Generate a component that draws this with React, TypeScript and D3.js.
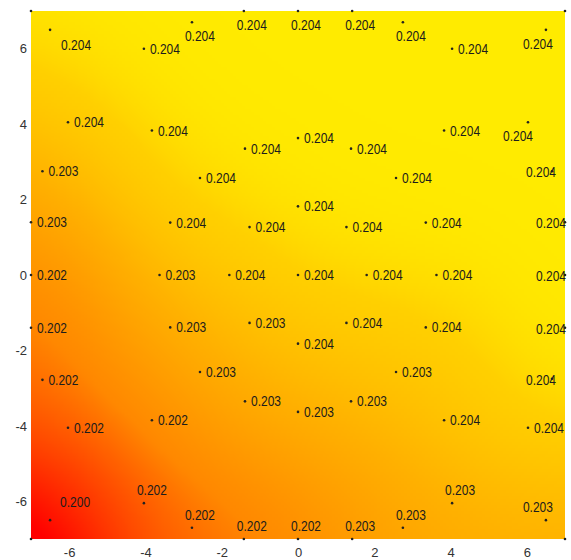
import React, { useEffect, useMemo, useRef } from 'react';
import * as d3 from 'd3';

// mesh nodes: centre, inner ring, middle ring, diagonals, outer nodes, frame nodes
const nodeX = [
  0,
  1.8, 1.27, 0, -1.27, -1.8, -1.27, 0, 1.27,
  3.63, 3.35, 2.57, 1.39, 0, -1.39, -2.57, -3.35, -3.63, -3.35, -2.57, -1.39, 0, 1.39, 2.57, 3.35,
  3.83, -3.83, -3.83, 3.83,
  6.03, 4.04, -4.04, -6.03, -6.03, -4.04, 4.04, 6.03,
  6.66, 2.75, -2.78, -6.7, -6.7, -2.78, 2.75, 6.66,
  6.5, -6.5, -6.5, 6.5,
  7, 7, 7, -7, -7, -7,
  0, 1.42, -1.42, 0, 1.42, -1.42,
];
const nodeY = [
  0,
  0, 1.27, 1.82, 1.27, 0, -1.27, -1.82, -1.27,
  0, 1.39, 2.57, 3.35, 3.63, 3.35, 2.57, 1.39, 0, -1.39, -2.57, -3.35, -3.63, -3.35, -2.57, -1.39,
  3.83, 3.83, -3.85, -3.85,
  4.05, 6.0, 6.0, 4.05, -4.05, -6.05, -6.05, -4.05,
  2.75, 6.7, 6.7, 2.75, -2.78, -6.7, -6.7, -2.75,
  6.5, 6.5, -6.5, -6.5,
  0, 1.4, -1.4, 0, 1.4, -1.4,
  7, 7, 7, -7, -7, -7,
];
const nodeValue = [
  0.204,
  0.204, 0.204, 0.204, 0.204, 0.204, 0.203, 0.204, 0.204,
  0.204, 0.204, 0.204, 0.204, 0.204, 0.204, 0.204, 0.204, 0.203, 0.203, 0.203, 0.203, 0.203, 0.203, 0.203, 0.204,
  0.204, 0.204, 0.202, 0.204,
  0.204, 0.204, 0.204, 0.204, 0.202, 0.202, 0.203, 0.204,
  0.204, 0.204, 0.204, 0.203, 0.202, 0.202, 0.203, 0.204,
  0.204, 0.204, 0.200, 0.203,
  0.204, 0.204, 0.204, 0.202, 0.203, 0.202,
  0.204, 0.204, 0.204, 0.202, 0.203, 0.202,
];
// unlabelled corner nodes
const cornerX = [-7, 7, -7, 7];
const cornerY = [7, 7, -7, -7];

const xTicks = [-6, -4, -2, 0, 2, 4, 6];
const yTicks = [-6, -4, -2, 0, 2, 4, 6];

const width = 571;
const height = 560;
const margin = { top: 11, right: 6, bottom: 21, left: 31 };
const plotW = width - margin.left - margin.right;
const plotH = height - margin.top - margin.bottom;

const x = d3.scaleLinear().domain([-7, 7]).range([0, plotW]);
const y = d3.scaleLinear().domain([-7, 7]).range([plotH, 0]);
const color = d3.scaleLinear<string>()
  .domain([0.2011, 0.2023, 0.2032, 0.2038, 0.20415])
  .range(['#ff0000', '#ff8800', '#ffb000', '#ffd000', '#ffff00'])
  .interpolate(d3.interpolateRgb)
  .clamp(true);
const fmt = d3.format('.3f');
const font = '"Liberation Sans", Arial, sans-serif';

// smooth the node values into a raster (gaussian kernel regression)
function buildField() {
  const cols = 178;
  const rows = 176;
  const canvas = document.createElement('canvas');
  canvas.width = cols;
  canvas.height = rows;
  const ctx = canvas.getContext('2d');
  if (!ctx) return '';
  const img = ctx.createImageData(cols, rows);
  const s2 = 2 * 2.0 * 2.0;
  for (let j = 0; j < rows; j++) {
    const yy = y.invert(((j + 0.5) * plotH) / rows);
    for (let i = 0; i < cols; i++) {
      const xx = x.invert(((i + 0.5) * plotW) / cols);
      let ws = 0;
      let vs = 0;
      for (let k = 0; k < nodeValue.length; k++) {
        const dx = xx - nodeX[k];
        const dy = yy - nodeY[k];
        const w = Math.exp(-(dx * dx + dy * dy) / s2);
        ws += w;
        vs += w * nodeValue[k];
      }
      const c = d3.rgb(color(vs / ws));
      const o = (j * cols + i) * 4;
      img.data[o] = c.r;
      img.data[o + 1] = c.g;
      img.data[o + 2] = c.b;
      img.data[o + 3] = 255;
    }
  }
  ctx.putImageData(img, 0, 0);
  return canvas.toDataURL();
}

// where the value label sits relative to its node
function placeLabel(vx: number, vy: number) {
  if (vy >= 6.3) {
    if (vx >= 6) return { dx: 7, dy: 19, anchor: 'end' };
    if (vx <= -6) return { dx: 11, dy: 20, anchor: 'start' };
    return { dx: -7, dy: 19, anchor: 'start' };
  }
  if (vy <= -6) {
    if (vx >= 6) return { dx: 7, dy: -8, anchor: 'end' };
    if (vx <= -6) return { dx: 10, dy: -13, anchor: 'start' };
    return { dx: -7, dy: -8, anchor: 'start' };
  }
  if (vx >= 6 && vy >= 4) return { dx: 5, dy: 19, anchor: 'end' };
  if (vx >= 6.8) return { dx: 1, dy: 6, anchor: 'end' };
  if (vx >= 6.3) return { dx: 4, dy: 6, anchor: 'end' };
  return { dx: 6, dy: 5, anchor: 'start' };
}

export default function App() {
  const xAxisRef = useRef<SVGGElement>(null);
  const yAxisRef = useRef<SVGGElement>(null);
  const field = useMemo(() => buildField(), []);

  useEffect(() => {
    const gx = d3.select(xAxisRef.current);
    gx.call(
      d3.axisBottom(x).tickValues(xTicks).tickSize(0).tickPadding(9)
        .tickFormat((d) => String(d)) as any
    );
    gx.select('.domain').remove();
    gx.attr('font-size', 13).attr('font-family', font);
    gx.selectAll('text').attr('fill', '#333');

    const gy = d3.select(yAxisRef.current);
    gy.call(
      d3.axisLeft(y).tickValues(yTicks).tickSize(0).tickPadding(4)
        .tickFormat((d) => String(d)) as any
    );
    gy.select('.domain').remove();
    gy.attr('font-size', 13).attr('font-family', font);
    gy.selectAll('text').attr('fill', '#333');
  }, []);

  return (
    <svg
      width={width}
      height={height}
      style={{ position: 'absolute', left: 0, top: 0, background: '#fff' }}
    >
      <g transform={`translate(${margin.left},${margin.top})`}>
        <image
          href={field}
          x={0}
          y={0}
          width={plotW}
          height={plotH}
          preserveAspectRatio="none"
        />
        <g ref={xAxisRef} transform={`translate(0,${plotH})`} />
        <g ref={yAxisRef} />
        {cornerX.map((cx, i) => (
          <circle key={`c${i}`} cx={x(cx)} cy={y(cornerY[i])} r={1.3} fill="#222" />
        ))}
        {nodeValue.map((v, i) => {
          const px = x(nodeX[i]);
          const py = y(nodeY[i]);
          const p = placeLabel(nodeX[i], nodeY[i]);
          return (
            <g key={i}>
              <circle cx={px} cy={py} r={1.3} fill="#222" />
              <text
                x={px + p.dx}
                y={py + p.dy}
                textAnchor={p.anchor}
                fontFamily={font}
                fontSize={14.5}
                textLength={30}
                lengthAdjust="spacingAndGlyphs"
                fill="#1c1c1c"
              >
                {fmt(v)}
              </text>
            </g>
          );
        })}
      </g>
    </svg>
  );
}
